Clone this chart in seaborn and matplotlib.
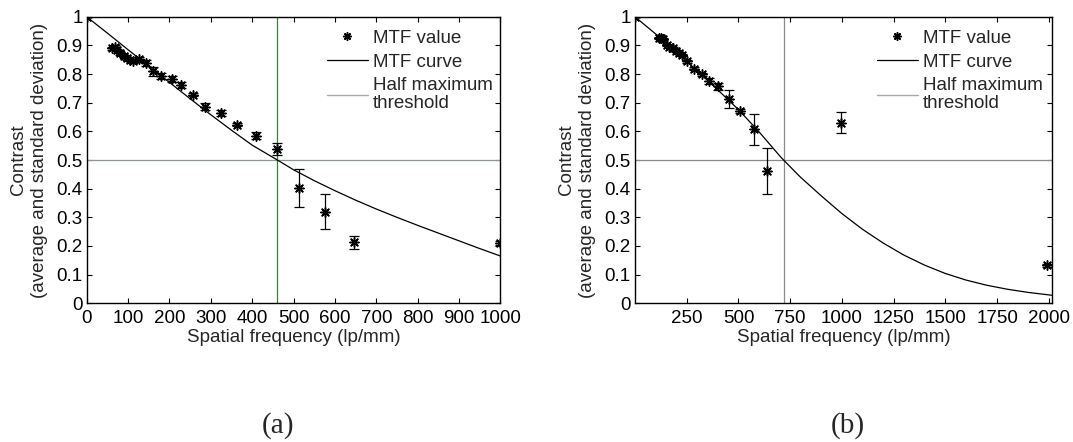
import numpy as np
import pandas as pd
import matplotlib
matplotlib.use("Agg")
import matplotlib.pyplot as plt
from matplotlib.lines import Line2D
import seaborn as sns

# ---------------- data ----------------
# panel (a)
a_freq = [0, 61, 69, 74, 81, 89, 97, 105, 113, 127, 144, 160, 180, 205, 228, 256,
          286, 324, 364, 409, 459, 514, 575, 645, 1000]
a_val = [1.0, 0.89, 0.895, 0.884, 0.872, 0.863, 0.855, 0.849, 0.845, 0.851, 0.84,
         0.81, 0.794, 0.782, 0.762, 0.728, 0.686, 0.663, 0.624, 0.585, 0.538, 0.403,
         0.32, 0.213, 0.21]
a_err = [0, 0.005, 0.005, 0.005, 0.005, 0.005, 0.005, 0.005, 0.005, 0.008, 0.01,
         0.015, 0.01, 0.01, 0.01, 0.006, 0.012, 0.01, 0.006, 0.012, 0.022, 0.067,
         0.06, 0.022, 0.008]
a_curve_x = [0, 50, 100, 150, 200, 250, 300, 350, 400, 461, 500, 550, 600, 650,
             700, 750, 800, 850, 900, 950, 1000]
a_curve_y = [1.0, 0.943, 0.885, 0.828, 0.771, 0.714, 0.658, 0.604, 0.552, 0.5,
             0.466, 0.428, 0.393, 0.36, 0.329, 0.3, 0.272, 0.245, 0.218, 0.191, 0.165]
a_half_freq = 461
a_xticks = [0, 100, 200, 300, 400, 500, 600, 700, 800, 900, 1000]

# panel (b)
b_freq = [0, 118, 126, 134, 153, 166, 182, 198, 211, 227, 250, 284, 323, 360, 403,
          453, 508, 573, 640, 995, 1990]
b_val = [1.0, 0.927, 0.927, 0.923, 0.902, 0.896, 0.89, 0.881, 0.873, 0.867, 0.844,
         0.819, 0.80, 0.775, 0.757, 0.713, 0.671, 0.607, 0.463, 0.63, 0.132]
b_err = [0, 0.004, 0.004, 0.004, 0.004, 0.004, 0.004, 0.004, 0.004, 0.004, 0.006,
         0.005, 0.005, 0.01, 0.013, 0.033, 0.006, 0.055, 0.08, 0.036, 0.006]
b_curve_x = [0, 100, 200, 300, 400, 500, 600, 700, 718, 800, 900, 1000, 1100, 1200,
             1300, 1400, 1500, 1600, 1700, 1800, 1900, 2015]
b_curve_y = [1.0, 0.94, 0.877, 0.812, 0.745, 0.676, 0.598, 0.514, 0.5, 0.44, 0.375,
             0.313, 0.258, 0.21, 0.168, 0.133, 0.104, 0.081, 0.063, 0.049, 0.038,
             0.028]
b_half_freq = 718
b_xticks = [250, 500, 750, 1000, 1250, 1500, 1750, 2000]

yticks = [0, 0.1, 0.2, 0.3, 0.4, 0.5, 0.6, 0.7, 0.8, 0.9, 1]
ytick_labels = ["0", "0.1", "0.2", "0.3", "0.4", "0.5", "0.6", "0.7", "0.8", "0.9", "1"]
legend_labels = ["MTF value", "MTF curve", "Half maximum\nthreshold"]
xlabel = "Spatial frequency (lp/mm)"
ylabel = "Contrast\n(average and standard deviation)"
captions = ["(a)", "(b)"]

# ---------------- style ----------------
sns.set_style("ticks")
plt.rcParams["font.family"] = ["Liberation Sans", "DejaVu Sans"]
plt.rcParams["axes.edgecolor"] = "black"
plt.rcParams["axes.linewidth"] = 1.0

FS = 13.5
STAR = (8, 2, 0)

fig = plt.figure(figsize=(10.73, 4.42), dpi=100)
ax1 = fig.add_axes([0.0808, 0.3138, 0.3856, 0.6482])
ax2 = fig.add_axes([0.5918, 0.3138, 0.3886, 0.6482])


def draw(ax, freq, val, err, cx, cy, half, xlim, xticks, vcolor, hcolor):
    ax.axhline(0.5, color=hcolor, lw=0.9, zorder=1)
    ax.axvline(half, color=vcolor, lw=0.9, zorder=1)
    sns.lineplot(x=cx, y=cy, ax=ax, color="black", lw=0.9, estimator=None,
                 sort=False, zorder=2)
    ax.errorbar(freq, val, yerr=err, fmt="none", ecolor="black", elinewidth=0.9,
                capsize=3.5, capthick=0.9, zorder=3)
    df = pd.DataFrame({"f": freq, "v": val})
    sns.scatterplot(data=df, x="f", y="v", ax=ax, marker=STAR, s=45, color="black",
                    edgecolor="black", linewidth=1.1, zorder=4)
    ax.set_xlim(*xlim)
    ax.set_ylim(0, 1)
    ax.set_xticks(xticks)
    ax.set_xticklabels([str(t) for t in xticks])
    ax.set_yticks(yticks)
    ax.set_yticklabels(ytick_labels)
    ax.tick_params(direction="in", top=True, right=True, length=3.5, width=0.8,
                   labelsize=FS, colors="black")
    ax.tick_params(axis="x", pad=5)
    ax.tick_params(axis="y", pad=3)
    for s in ax.spines.values():
        s.set_visible(True)
        s.set_color("black")
        s.set_linewidth(1.0)
    ax.set_xlabel(xlabel, fontsize=FS, labelpad=1)
    ax.set_ylabel(ylabel, fontsize=FS, labelpad=6, linespacing=1.3)
    handles = [
        Line2D([], [], marker=STAR, ls="none", color="black", ms=6, mew=1.1),
        Line2D([], [], color="black", lw=0.9),
        Line2D([], [], color="#aaaaaa", lw=1.0),
    ]
    leg = ax.legend(handles, legend_labels, loc="upper left",
                    bbox_to_anchor=(0.58, 0.955), frameon=False, fontsize=FS,
                    borderpad=0, borderaxespad=0, handlelength=2.2,
                    handletextpad=0.25, labelspacing=0.35)
    for t in leg.get_texts():
        t.set_linespacing(1.1)


draw(ax1, a_freq, a_val, a_err, a_curve_x, a_curve_y, a_half_freq, (0, 1000),
     a_xticks, "#3a803a", "#8e978e")
draw(ax2, b_freq, b_val, b_err, b_curve_x, b_curve_y, b_half_freq, (0, 2015),
     b_xticks, "#8a8a8a", "#8a8a8a")

fig.text(278 / 1073, 1 - 425.5 / 442, captions[0], ha="center", va="center",
         fontsize=21, family=["Liberation Serif", "DejaVu Serif"])
fig.text(848 / 1073, 1 - 425.5 / 442, captions[1], ha="center", va="center",
         fontsize=21, family=["Liberation Serif", "DejaVu Serif"])

fig.savefig("out.png", dpi=100)
